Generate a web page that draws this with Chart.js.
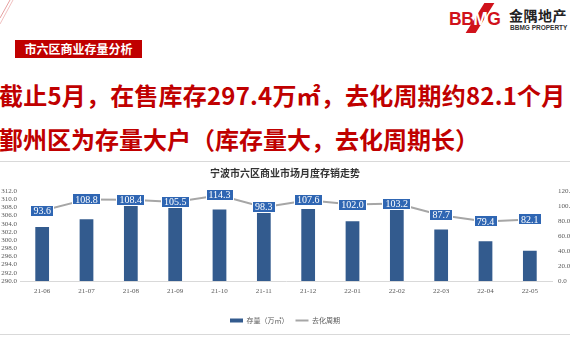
<!DOCTYPE html>
<html lang="zh">
<head>
<meta charset="UTF-8">
<script src="https://cdn.jsdelivr.net/npm/chart.js"></script>
<title>宁波市六区商业市场月度存销走势</title>
<style>
  body { margin: 0; width: 570px; height: 360px; overflow: hidden; background: #fff; position: relative; font-family: "Noto Sans CJK SC", sans-serif; }
  .deco { position: absolute; left: 0; top: 0; }
  .tag { position: absolute; left: 15px; top: 40px; width: 127px; height: 18px; background: #c00000; color: #fff; font-weight: bold; font-size: 12px; line-height: 18px; text-align: center; }
  .logo { position: absolute; left: 449px; top: 3px; width: 121px; height: 32px; }
  .logo .bb { position: absolute; left: 0; top: 7px; font: bold 17.5px "Liberation Sans", sans-serif; color: #d0121b; line-height: 18px; letter-spacing: -0.5px; }
  .logo .slash { position: absolute; left: 26px; top: 0; width: 10px; height: 30px; background: #d0121b; transform: skewX(-32deg); }
  .logo .cn { position: absolute; left: 60px; top: 4px; font-size: 14px; font-weight: bold; color: #222; line-height: 16px; letter-spacing: 0.5px; }
  .logo .en { position: absolute; left: 61px; top: 21px; font: bold 6.5px "Liberation Sans", sans-serif; color: #333; line-height: 8px; }
  .head { position: absolute; left: -1px; font-size: 24px; font-weight: bold; color: #c00000; line-height: 24px; white-space: nowrap; }
  .l1 { top: 83px; letter-spacing: 0.2px; }
  .l2 { top: 127px; }
  .box { position: absolute; left: -1px; top: 161px; width: 572px; height: 172px; border-top: 1px solid #d9d9d9; border-bottom: 1px solid #d9d9d9; }
  .box canvas { position: absolute; left: 1px; top: 0; }
</style>
</head>
<body>
<svg class="deco" width="40" height="30">
  <line x1="0" y1="18" x2="10" y2="0" stroke="#e6a0a0" stroke-width="1"/>
  <line x1="0" y1="24" x2="13" y2="0" stroke="#f0c0c0" stroke-width="1"/>
</svg>
<div class="tag">市六区商业存量分析</div>
<div class="logo">
  <div class="slash"></div>
  <div class="bb">BB<span style="color:#fff">M</span>G</div>
  <div class="cn">金隅地产</div>
  <div class="en">BBMG PROPERTY</div>
</div>
<div class="head l1">截止5月，在售库存297.4万㎡，去化周期约82.1个月</div>
<div class="head l2">鄞州区为存量大户（库存量大，去化周期长）</div>

<div class="box"><canvas id="c" width="570" height="172"></canvas></div>

<script>
// 月份
const months = ['21-06', '21-07', '21-08', '21-09', '21-10', '21-11', '21-12', '22-01', '22-02', '22-03', '22-04', '22-05'];
// 存量（万㎡）
const stock = [303.2, 305.1, 309.3, 308.6, 307.5, 307.2, 307.6, 304.6, 308.2, 302.6, 299.7, 297.4];
// 去化周期（月）
const cycle = [93.6, 108.8, 108.4, 105.5, 114.3, 98.3, 107.6, 102.0, 103.2, 87.7, 79.4, 82.1];
const leftRange = [290, 312, 2];
const rightRange = [0, 120, 20];

const barColor = '#335b8e';
const lineColor = '#a6a6a6';
const tagColor = '#2f66b3';
const tickFont = { family: 'Liberation Serif', size: 7 };

// 折线上的蓝底数据标签
const boxLabels = {
    id: 'boxLabels',
    afterDatasetsDraw(chart) {
        const meta = chart.getDatasetMeta(1);
        const ctx = chart.ctx;
        ctx.save();
        ctx.font = '10px "Liberation Serif"';
        ctx.textAlign = 'center';
        ctx.textBaseline = 'middle';
        meta.data.forEach((pt, i) => {
            const txt = cycle[i].toFixed(1);
            const w = Math.round(ctx.measureText(txt).width + 6);
            const h = 12;
            const x = Math.round(pt.x - w / 2), y = Math.round(pt.y - h / 2);
            ctx.fillStyle = tagColor;
            ctx.fillRect(x, y, w, h);
            ctx.strokeStyle = '#fff';
            ctx.lineWidth = 1;
            ctx.strokeRect(x + 0.5, y + 0.5, w - 1, h - 1);
            ctx.fillStyle = '#fff';
            ctx.fillText(txt, pt.x, pt.y + 0.5);
        });
        ctx.restore();
    }
};

new Chart(document.getElementById('c'), {
    type: 'bar',
    data: {
        labels: months,
        datasets: [
            { type: 'bar', label: '存量（万㎡）', data: stock, backgroundColor: barColor, yAxisID: 'y', order: 1,
              barPercentage: 0.31, categoryPercentage: 1 },
            { type: 'line', label: '去化周期', data: cycle, borderColor: lineColor, borderWidth: 2, pointRadius: 0,
              tension: 0, yAxisID: 'y1', order: 0 }
        ]
    },
    options: {
        responsive: false,
        animation: false,
        events: [],
        plugins: {
            title: {
                display: true, text: '宁波市六区商业市场月度存销走势', color: '#333',
                font: { family: 'Noto Sans CJK SC', size: 10, weight: 'bold' },
                padding: { top: 5, bottom: 12 }
            },
            legend: {
                position: 'bottom',
                labels: {
                    font: { family: 'Noto Sans CJK SC', size: 7 }, color: '#595959',
                    usePointStyle: true, pointStyleWidth: 13, boxHeight: 4, boxWidth: 13, padding: 7,
                    generateLabels: chart => chart.data.datasets.map((ds, i) => ({
                        text: ds.label, datasetIndex: i, hidden: false,
                        fillStyle: i === 0 ? barColor : lineColor,
                        strokeStyle: i === 0 ? barColor : lineColor,
                        lineWidth: i === 0 ? 0 : 2,
                        pointStyle: i === 0 ? 'rect' : 'line',
                        fontColor: '#595959'
                    }))
                }
            },
            tooltip: { enabled: false }
        },
        scales: {
            x: {
                grid: { display: false, drawTicks: false },
                border: { color: '#d9d9d9' },
                ticks: { font: tickFont, color: '#595959', padding: 6, maxRotation: 0, autoSkip: false },
                afterFit: s => { s.height = 29; }
            },
            y: {
                position: 'left', min: leftRange[0], max: leftRange[1],
                ticks: { stepSize: leftRange[2], autoSkip: false, callback: v => v.toFixed(1), font: tickFont, color: '#595959', padding: 3 },
                grid: { display: false, drawTicks: false }, border: { display: false },
                afterFit: s => { s.width = 20; }
            },
            y1: {
                position: 'right', min: rightRange[0], max: rightRange[1],
                ticks: { stepSize: rightRange[2], autoSkip: false, callback: v => v.toFixed(1), font: tickFont, color: '#595959', padding: 6 },
                grid: { display: false, drawTicks: false }, border: { display: false },
                afterFit: s => { s.width = 18; }
            }
        }
    },
    plugins: [boxLabels]
});
</script>
</body>
</html>
